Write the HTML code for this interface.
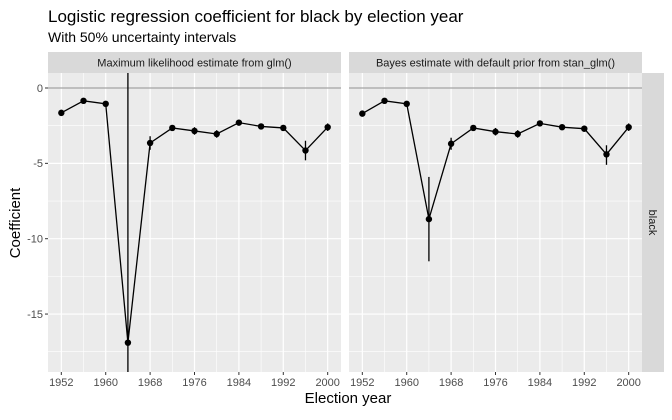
<!DOCTYPE html>
<html><head><meta charset="utf-8"><style>
body{margin:0;background:#fff;font-family:"Liberation Sans",sans-serif}
svg text{font-family:"Liberation Sans",sans-serif}
</style></head><body>
<svg id="c" width="672" height="415" xmlns="http://www.w3.org/2000/svg">
<text x="48" y="22" font-size="17" fill="#000">Logistic regression coefficient for black by election year</text>
<text x="48" y="42" font-size="14" fill="#000">With 50% uncertainty intervals</text>
<text x="0" y="0" font-size="15" text-anchor="middle" transform="translate(20,223) rotate(-90)">Coefficient</text>
<text x="348" y="403" font-size="15" text-anchor="middle">Election year</text>
<g id="g"></g>
</svg>
<script>
const years=[1952,1956,1960,1964,1968,1972,1976,1980,1984,1988,1992,1996,2000];
const mlEst=[-1.65,-0.85,-1.05,-16.9,-3.65,-2.65,-2.85,-3.05,-2.3,-2.55,-2.65,-4.15,-2.6];
const mlLo=[-1.85,-1.0,-1.2,-40,-4.1,-2.8,-3.1,-3.3,-2.45,-2.7,-2.85,-4.8,-2.85];
const mlHi=[-1.45,-0.7,-0.9,10,-3.2,-2.5,-2.6,-2.8,-2.15,-2.4,-2.45,-3.5,-2.35];
const bEst=[-1.7,-0.85,-1.05,-8.7,-3.7,-2.65,-2.9,-3.05,-2.35,-2.6,-2.7,-4.4,-2.6];
const bLo=[-1.85,-1.0,-1.2,-11.5,-4.1,-2.8,-3.15,-3.3,-2.5,-2.75,-2.9,-5.1,-2.85];
const bHi=[-1.55,-0.7,-0.9,-5.9,-3.3,-2.5,-2.65,-2.8,-2.2,-2.45,-2.5,-3.8,-2.35];
const panelTitles=["Maximum likelihood estimate from glm()","Bayes estimate with default prior from stan_glm()"];
const yTicks=[0,-5,-10,-15];
const xTicks=[1952,1960,1968,1976,1984,1992,2000];
const NS="http://www.w3.org/2000/svg";
const g=document.getElementById('g');
function mk(t,a,p){const e=document.createElementNS(NS,t);for(const k in a)e.setAttribute(k,a[k]);(p||g).appendChild(e);return e;}
const pTop=73,pBot=372;
const y=v=>88-v*15.07;
const panels=[{x0:48,x1:341,est:mlEst,lo:mlLo,hi:mlHi},{x0:349,x1:642,est:bEst,lo:bLo,hi:bHi}];
panels.forEach((p,pi)=>{
  const x=v=>p.x0+(v-1949.6)/(52.8)*(p.x1-p.x0);
  const pg=mk('g',{});
  
  
  const cp='cp'+pi;
  const cl=mk('clipPath',{id:cp},pg);mk('rect',{x:p.x0,y:pTop,width:p.x1-p.x0,height:pBot-pTop},cl);
  const bg=mk('rect',{x:p.x0,y:pTop,width:p.x1-p.x0,height:pBot-pTop,fill:'#ebebeb'},pg);
  
  
  for(let v=2.5;v>-20;v-=5){const yy=y(v);if(yy>pTop&&yy<pBot)mk('line',{x1:p.x0,x2:p.x1,y1:yy,y2:yy,stroke:'#fff','stroke-width':0.6},pg);}
  for(let v=1956;v<2002;v+=8)mk('line',{x1:x(v),x2:x(v),y1:pTop,y2:pBot,stroke:'#fff','stroke-width':0.6},pg);
  yTicks.forEach(v=>mk('line',{x1:p.x0,x2:p.x1,y1:y(v),y2:y(v),stroke:'#fff','stroke-width':1.2},pg));
  xTicks.forEach(v=>mk('line',{x1:x(v),x2:x(v),y1:pTop,y2:pBot,stroke:'#fff','stroke-width':1.2},pg));
  mk('line',{x1:p.x0,x2:p.x1,y1:y(0),y2:y(0),stroke:'#8c8c8c','stroke-width':1},pg);
  const dg=mk('g',{'clip-path':'url(#'+cp+')'},pg);
  const ln=mk('polyline',{points:years.map((yr,i)=>x(yr)+','+y(p.est[i])).join(' '),fill:'none',stroke:'#000','stroke-width':1.3},dg);
  
  
  years.forEach((yr,i)=>{
    const eb=mk('line',{x1:x(yr),x2:x(yr),y1:y(p.hi[i]),y2:y(p.lo[i]),stroke:'#000','stroke-width':1.3},dg);
    
    
    const pt=mk('circle',{cx:x(yr),cy:y(p.est[i]),r:3.2,fill:'#000'},dg);
    
    
  });
  const st=mk('rect',{x:p.x0,y:52,width:p.x1-p.x0,height:21,fill:'#d9d9d9'},pg);
  
  
  const stt=mk('text',{x:(p.x0+p.x1)/2,y:66.5,'font-size':11,'text-anchor':'middle',fill:'#1a1a1a'},pg);
  stt.textContent=panelTitles[pi];
  
  
  xTicks.forEach(v=>{
    mk('line',{x1:x(v),x2:x(v),y1:pBot,y2:pBot+3,stroke:'#333'},pg);
    const t=mk('text',{x:x(v),y:pBot+14,'font-size':11,'text-anchor':'middle',fill:'#4d4d4d'},pg);
    t.textContent=v;
    
    
  });
});
yTicks.forEach(v=>{
  mk('line',{x1:45,x2:48,y1:y(v),y2:y(v),stroke:'#333'});
  const t=mk('text',{x:43,y:y(v)+3.8,'font-size':11,'text-anchor':'end',fill:'#4d4d4d'});
  t.textContent=v===0?'0':'-'+Math.abs(v);
  
  
});
const rs=mk('rect',{x:642,y:pTop,width:22,height:pBot-pTop,fill:'#d9d9d9'});


const rt=mk('text',{x:0,y:0,'font-size':11,'text-anchor':'middle',fill:'#1a1a1a',transform:'translate(649,'+((pTop+pBot)/2)+') rotate(90)'});
rt.textContent='black';


</script>
</body></html>
